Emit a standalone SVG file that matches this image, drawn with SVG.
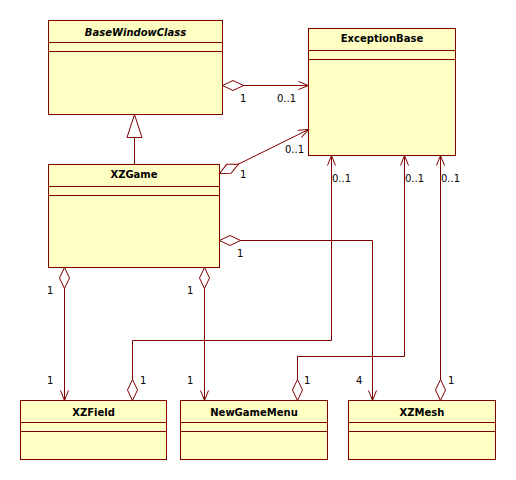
<svg xmlns="http://www.w3.org/2000/svg" width="516" height="480" viewBox="0 0 516 480">
<style>
.box{fill:#ffffc4;stroke:#800000;stroke-width:1}
.sep{stroke:#800000;stroke-width:1}
.name{font-family:"DejaVu Sans",Verdana,sans-serif;font-size:10px;font-weight:bold;fill:#000;text-anchor:middle}
.it{font-style:italic}
.lbl{font-family:"DejaVu Sans",Verdana,sans-serif;font-size:10px;fill:#000}
.c{fill:none;stroke:#800000;stroke-width:1}
.ag{marker-start:url(#dia);marker-end:url(#arr)}
</style>
<defs>
<marker id="dia" markerUnits="userSpaceOnUse" markerWidth="22" markerHeight="12" refX="0.5" refY="5.5" orient="auto" overflow="visible">
<path d="M0.5,5.5 L11,0.5 L21.5,5.5 L11,10.5 Z" fill="#ffffff" stroke="#800000" stroke-width="1"/>
</marker>
<marker id="arr" markerUnits="userSpaceOnUse" markerWidth="12" markerHeight="10" refX="10" refY="4.5" orient="auto" overflow="visible">
<path d="M0,0.5 L10,4.5 L0,8.5" fill="none" stroke="#800000" stroke-width="1"/>
</marker>
</defs>
<g id="BaseWindowClass">
<rect class="box" x="48.5" y="20.5" width="174" height="94"/>
<line class="sep" x1="48.5" y1="42.5" x2="222.5" y2="42.5"/>
<line class="sep" x1="48.5" y1="51.5" x2="222.5" y2="51.5"/>
<text class="name it" x="135.5" y="36">BaseWindowClass</text>
</g>
<g id="ExceptionBase">
<rect class="box" x="308.5" y="28.5" width="147" height="127"/>
<line class="sep" x1="308.5" y1="50.5" x2="455.5" y2="50.5"/>
<line class="sep" x1="308.5" y1="59.5" x2="455.5" y2="59.5"/>
<text class="name" x="382" y="42">ExceptionBase</text>
</g>
<g id="XZGame">
<rect class="box" x="48.5" y="164.5" width="171" height="103"/>
<line class="sep" x1="48.5" y1="186.5" x2="219.5" y2="186.5"/>
<line class="sep" x1="48.5" y1="195.5" x2="219.5" y2="195.5"/>
<text class="name" x="134" y="178">XZGame</text>
</g>
<g id="XZField">
<rect class="box" x="20.5" y="400.5" width="146" height="59"/>
<line class="sep" x1="20.5" y1="422.5" x2="166.5" y2="422.5"/>
<line class="sep" x1="20.5" y1="431.5" x2="166.5" y2="431.5"/>
<text class="name" x="93.5" y="416">XZField</text>
</g>
<g id="NewGameMenu">
<rect class="box" x="180.5" y="400.5" width="147" height="59"/>
<line class="sep" x1="180.5" y1="422.5" x2="327.5" y2="422.5"/>
<line class="sep" x1="180.5" y1="431.5" x2="327.5" y2="431.5"/>
<text class="name" x="254" y="416">NewGameMenu</text>
</g>
<g id="XZMesh">
<rect class="box" x="348.5" y="400.5" width="147" height="59"/>
<line class="sep" x1="348.5" y1="422.5" x2="495.5" y2="422.5"/>
<line class="sep" x1="348.5" y1="431.5" x2="495.5" y2="431.5"/>
<text class="name" x="422" y="416">XZMesh</text>
</g>
<g id="connectors">
<path class="c" d="M134.5,164.5 L134.5,137.5"/>
<path d="M134.5,114.5 L142,137.5 L127,137.5 Z" fill="#ffffff" stroke="#800000" stroke-width="1"/>
<path class="c ag" d="M222.5,85.5 L308.5,85.5"/>
<path class="c ag" d="M219.5,173.5 L308.5,129.5"/>
<path class="c ag" d="M219.5,240.5 L372.5,240.5 L372.5,400.5"/>
<path class="c ag" d="M64.5,267.5 L64.5,400.5"/>
<path class="c ag" d="M204.5,267.5 L204.5,400.5"/>
<path class="c ag" d="M132.5,400.5 L132.5,340.5 L331.5,340.5 L331.5,155.5"/>
<path class="c ag" d="M297.5,400.5 L297.5,356.5 L404.5,356.5 L404.5,155.5"/>
<path class="c ag" d="M440.5,400.5 L440.5,155.5"/>
<text class="lbl" x="240" y="102">1</text>
<text class="lbl" x="277" y="102">0..1</text>
<text class="lbl" x="240" y="178">1</text>
<text class="lbl" x="285" y="153">0..1</text>
<text class="lbl" x="332" y="182">0..1</text>
<text class="lbl" x="405" y="182">0..1</text>
<text class="lbl" x="441" y="182">0..1</text>
<text class="lbl" x="237" y="257">1</text>
<text class="lbl" x="47" y="294">1</text>
<text class="lbl" x="187" y="294">1</text>
<text class="lbl" x="47" y="384">1</text>
<text class="lbl" x="140" y="384">1</text>
<text class="lbl" x="187" y="384">1</text>
<text class="lbl" x="304" y="384">1</text>
<text class="lbl" x="356" y="384">4</text>
<text class="lbl" x="448" y="384">1</text>
</g>
</svg>
